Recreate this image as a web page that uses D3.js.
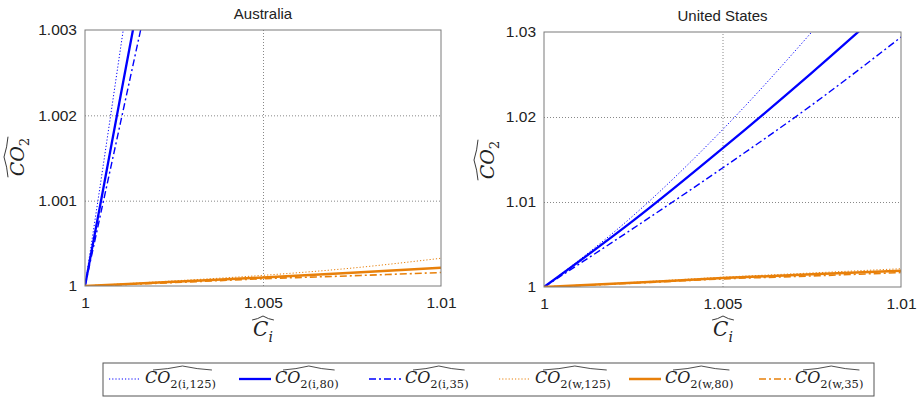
<!DOCTYPE html>
<html><head><meta charset="utf-8">
<script src="https://cdn.jsdelivr.net/npm/d3@7"></script>
<style>
html,body{margin:0;padding:0;background:#fff;}
svg{display:block;}
</style></head>
<body>
<svg id="chart" width="920" height="400"></svg>
<script>
// ---------- data ----------
const panelTitles = ["Australia", "United States"];
const xTicks = [1, 1.005, 1.01];
const xTickLabels = ["1", "1.005", "1.01"];
const auYTicks = [1, 1.001, 1.002, 1.003];
const auYTickLabels = ["1", "1.001", "1.002", "1.003"];
const usYTicks = [1, 1.01, 1.02, 1.03];
const usYTickLabels = ["1", "1.01", "1.02", "1.03"];

const seriesKeys = ["i,125", "i,80", "i,35", "w,125", "w,80", "w,35"];

// Australia
const auBlueX = [1, 1.0005, 1.001, 1.0015, 1.002];
const auI125 = [1, 1.00138, 1.00279, 1.0042, 1.0056];
const auI80 = [1, 1.00111, 1.00223, 1.00334, 1.00446];
const auI35 = [1, 1.00096, 1.00192, 1.00288, 1.00384];
const auOrangeX = [1, 1.0025, 1.005, 1.0075, 1.01];
const auW125 = [1, 1.00006, 1.000125, 1.00021, 1.000325];
const auW80 = [1, 1.00005, 1.0001, 1.000155, 1.000215];
const auW35 = [1, 1.00004, 1.000085, 1.00012, 1.000158];

// United States
const usX = [1, 1.0025, 1.005, 1.0075, 1.01];
const usI125 = [1, 1.0084, 1.0185, 1.0300, 1.0425];
const usI80 = [1, 1.0078, 1.0163, 1.0252, 1.0345];
const usI35 = [1, 1.0069, 1.0140, 1.0214, 1.0294];
const usW125 = [1, 1.00055, 1.00115, 1.00165, 1.00215];
const usW80 = [1, 1.0005, 1.00105, 1.0015, 1.0019];
const usW35 = [1, 1.00045, 1.00095, 1.0013, 1.0017];

// ---------- styles ----------
const BLUE = "#0000ff", ORANGE = "#e8800a";
const styles = {
  "i,125": {color: BLUE, width: 1, dash: "1.2,2"},
  "i,80":  {color: BLUE, width: 2.3, dash: null},
  "i,35":  {color: BLUE, width: 1.4, dash: "7,3,2,3"},
  "w,125": {color: ORANGE, width: 1, dash: "1.2,2"},
  "w,80":  {color: ORANGE, width: 2.5, dash: null},
  "w,35":  {color: ORANGE, width: 1.6, dash: "7,3,2,3"}
};

const panels = [
  {title: panelTitles[0], box: {x0: 85, x1: 441, y0: 30, y1: 286}, yDomain: [1, 1.003],
   yTicks: auYTicks, yLabels: auYTickLabels, ylab: {x: 18, y: 157}, xlab: {x: 263, y: 336},
   series: [
     {key: "i,125", x: auBlueX, y: auI125}, {key: "i,80", x: auBlueX, y: auI80},
     {key: "i,35", x: auBlueX, y: auI35}, {key: "w,125", x: auOrangeX, y: auW125},
     {key: "w,80", x: auOrangeX, y: auW80}, {key: "w,35", x: auOrangeX, y: auW35}]},
  {title: panelTitles[1], box: {x0: 544, x1: 901, y0: 32, y1: 287}, yDomain: [1, 1.03],
   yTicks: usYTicks, yLabels: usYTickLabels, ylab: {x: 488, y: 160}, xlab: {x: 723, y: 336},
   series: [
     {key: "i,125", x: usX, y: usI125}, {key: "i,80", x: usX, y: usI80},
     {key: "i,35", x: usX, y: usI35}, {key: "w,125", x: usX, y: usW125},
     {key: "w,80", x: usX, y: usW80}, {key: "w,35", x: usX, y: usW35}]}
];

const svg = d3.select("#chart");
const SANS = "'Liberation Sans', Arial, sans-serif";
const SERIF = "'DejaVu Serif', 'Liberation Serif', serif";

function hatPath(x0, x1, y) {
  const xm = (x0 + x1) / 2, h = 4;
  return `M${x0},${y} Q${(x0 + xm) / 2},${y - h * 0.2} ${xm},${y - h} Q${(xm + x1) / 2},${y - h * 0.2} ${x1},${y}`;
}

function mathLabel(g, parts, size) {
  const t = g.append("text").attr("font-family", SERIF).attr("fill", "#222");
  parts.forEach(p => {
    const ts = t.append("tspan").text(p.text);
    if (p.italic) ts.attr("font-style", "italic");
    ts.attr("font-size", p.sub ? size * 0.7 : size);
    if (p.sub) ts.attr("dy", size * 0.28);
  });
  return t;
}

panels.forEach((p, pi) => {
  const b = p.box;
  const x = d3.scaleLinear().domain([1, 1.01]).range([b.x0, b.x1]);
  const y = d3.scaleLinear().domain(p.yDomain).range([b.y1, b.y0]);
  const g = svg.append("g");

  const clipId = "clip" + pi;
  svg.append("clipPath").attr("id", clipId).append("rect")
    .attr("x", b.x0).attr("y", b.y0).attr("width", b.x1 - b.x0).attr("height", b.y1 - b.y0);

  // grid
  const gridY = d3.axisLeft(y).tickValues(p.yTicks.slice(1, -1)).tickSize(-(b.x1 - b.x0)).tickFormat("");
  g.append("g").attr("transform", `translate(${b.x0},0)`).call(gridY)
    .call(s => s.select(".domain").remove())
    .call(s => s.selectAll("line").attr("stroke", "#888").attr("stroke-dasharray", "1,2"));
  const gridX = d3.axisBottom(x).tickValues(xTicks.slice(1, -1)).tickSize(-(b.y1 - b.y0)).tickFormat("");
  g.append("g").attr("transform", `translate(0,${b.y1})`).call(gridX)
    .call(s => s.select(".domain").remove())
    .call(s => s.selectAll("line").attr("stroke", "#888").attr("stroke-dasharray", "1,2"));

  // lines
  const lines = g.append("g").attr("clip-path", `url(#${clipId})`);
  p.series.forEach(s => {
    const st = styles[s.key];
    const pts = s.x.map((xv, i) => [xv, s.y[i]]);
    const line = d3.line().x(d => x(d[0])).y(d => y(d[1])).curve(d3.curveMonotoneX);
    lines.append("path").attr("d", line(pts)).attr("fill", "none")
      .attr("stroke", st.color).attr("stroke-width", st.width)
      .attr("stroke-dasharray", st.dash);
  });

  // frame
  g.append("rect").attr("x", b.x0).attr("y", b.y0).attr("width", b.x1 - b.x0).attr("height", b.y1 - b.y0)
    .attr("fill", "none").attr("stroke", "#7a7a7a").attr("stroke-width", 1);

  // tick labels
  const yAxis = d3.axisLeft(y).tickValues(p.yTicks).tickSize(0).tickPadding(8)
    .tickFormat((d, i) => p.yLabels[i]);
  g.append("g").attr("transform", `translate(${b.x0},0)`).call(yAxis)
    .call(s => s.select(".domain").remove())
    .call(s => s.selectAll("text").attr("font-family", SANS).attr("font-size", 15.5).attr("fill", "#222"));
  const xAxis = d3.axisBottom(x).tickValues(xTicks).tickSize(0).tickPadding(11)
    .tickFormat((d, i) => xTickLabels[i]);
  g.append("g").attr("transform", `translate(0,${b.y1})`).call(xAxis)
    .call(s => s.select(".domain").remove())
    .call(s => s.selectAll("text").attr("font-family", SANS).attr("font-size", 15.5).attr("fill", "#222"));

  // title
  g.append("text").attr("x", (b.x0 + b.x1) / 2).attr("y", b.y0 - 11).attr("text-anchor", "middle")
    .attr("font-family", SANS).attr("font-size", 15).attr("fill", "#222").text(p.title);

  // x label: widehat C_i
  const xg = g.append("g");
  const xt = mathLabel(xg, [{text: "C", italic: true}, {text: "i", italic: true, sub: true}], 20);
  const xbb = xt.node().getBBox();
  xg.attr("transform", `translate(${p.xlab.x - xbb.width / 2},${p.xlab.y})`);
  xg.append("path").attr("d", hatPath(xbb.x - 1, xbb.x + xbb.width + 1, -16))
    .attr("fill", "none").attr("stroke", "#222").attr("stroke-width", 0.9);

  // y label: widehat CO2
  const yg = g.append("g");
  const yt = mathLabel(yg, [{text: "CO", italic: true}, {text: "2", sub: true}], 19);
  const ybb = yt.node().getBBox();
  yt.attr("x", -ybb.width / 2);
  yg.append("path").attr("d", hatPath(-ybb.width / 2 - 1, ybb.width / 2 + 1, -16))
    .attr("fill", "none").attr("stroke", "#222").attr("stroke-width", 0.9);
  yg.attr("transform", `translate(${p.ylab.x + 6},${p.ylab.y}) rotate(-90)`);
});

// ---------- legend ----------
const legend = svg.append("g");
legend.append("rect").attr("x", 103).attr("y", 363).attr("width", 771).attr("height", 33)
  .attr("fill", "#fff").attr("stroke", "#555").attr("stroke-width", 1);
const legX = d3.scalePoint().domain(seriesKeys).range([109, 759]);
seriesKeys.forEach(k => {
  const st = styles[k];
  const x0 = legX(k), yc = 379;
  legend.append("line").attr("x1", x0).attr("x2", x0 + 32).attr("y1", yc).attr("y2", yc)
    .attr("stroke", st.color).attr("stroke-width", st.width).attr("stroke-dasharray", st.dash);
  const lg = legend.append("g").attr("transform", `translate(${x0 + 36},${yc + 4})`);
  const t = lg.append("text").attr("font-family", SERIF).attr("fill", "#222");
  t.append("tspan").attr("font-style", "italic").attr("font-size", 16).text("CO");
  t.append("tspan").attr("font-size", 11.5).attr("dy", 5).text("2(" + k + ")");
  const bb = t.node().getBBox();
  lg.append("path").attr("d", hatPath(bb.x + 8, bb.x + bb.width - 4, -13))
    .attr("fill", "none").attr("stroke", "#222").attr("stroke-width", 0.8);
});
</script>
</body></html>
